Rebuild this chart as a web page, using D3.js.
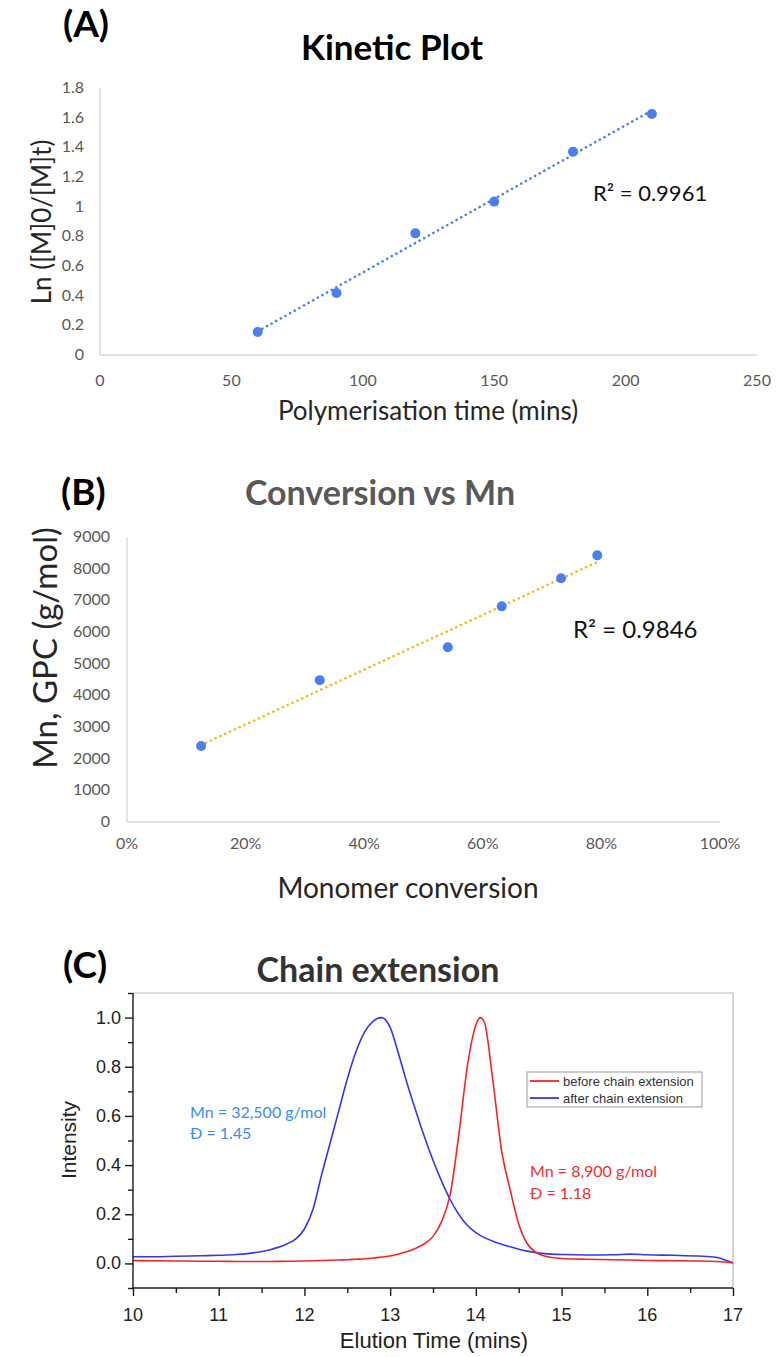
<!DOCTYPE html>
<html><head><meta charset="utf-8">
<script src="https://cdn.jsdelivr.net/npm/d3@7"></script>
<style>body{margin:0;background:#fff}svg{display:block}</style>
</head><body>
<svg id="c" width="780" height="1357"></svg>
<script>
// ---------- Data ----------
// Panel A: kinetic plot
const timeMins = [60, 90, 120, 150, 180, 210];
const lnM0Mt = [0.155, 0.418, 0.82, 1.034, 1.371, 1.625];
const ticksA_x = [0, 50, 100, 150, 200, 250];
const ticksA_y = [0, 0.2, 0.4, 0.6, 0.8, 1, 1.2, 1.4, 1.6, 1.8];
const r2A = "R² = 0.9961";

// Panel B: conversion vs Mn
const conversion = [0.125, 0.325, 0.541, 0.632, 0.732, 0.793];
const mnGPC = [2400, 4480, 5520, 6810, 7700, 8420];
const ticksB_x = [0, 0.2, 0.4, 0.6, 0.8, 1.0];
const ticksB_y = [0, 1000, 2000, 3000, 4000, 5000, 6000, 7000, 8000, 9000];
const r2B = "R² = 0.9846";

// Panel C: GPC traces (elution time, normalised intensity)
const elutionTime = [10.0,10.2,10.5,10.8,11.0,11.2,11.4,11.6,11.8,11.9,12.0,12.1,12.2,12.3,12.4,12.5,12.6,12.7,12.8,12.9,13.0,13.1,13.2,13.3,13.4,13.5,13.6,13.7,13.8,13.9,14.0,14.05,14.1,14.2,14.3,14.4,14.5,14.6,14.7,14.8,15.0,15.3,15.6,15.8,16.0,16.3,16.6,16.8,16.9,17.0];
const afterExt  = [0.027,0.027,0.029,0.031,0.033,0.036,0.043,0.056,0.08,0.1,0.14,0.22,0.36,0.49,0.62,0.75,0.86,0.94,0.985,1.0,0.96,0.85,0.73,0.62,0.515,0.42,0.335,0.26,0.2,0.155,0.125,0.114,0.105,0.09,0.078,0.068,0.058,0.05,0.044,0.04,0.036,0.034,0.035,0.038,0.035,0.033,0.03,0.025,0.015,0.003];
const beforeExt = [0.012,0.011,0.01,0.009,0.009,0.008,0.008,0.008,0.009,0.009,0.01,0.011,0.012,0.013,0.014,0.015,0.017,0.019,0.022,0.026,0.03,0.038,0.048,0.062,0.08,0.11,0.17,0.28,0.52,0.8,0.97,1.0,0.98,0.74,0.46,0.3,0.16,0.08,0.045,0.03,0.02,0.017,0.015,0.014,0.012,0.011,0.01,0.008,0.006,0.002];
const ticksC_x = [10, 11, 12, 13, 14, 15, 16, 17];
const ticksC_y = [0.0, 0.2, 0.4, 0.6, 0.8, 1.0];
const legendLabels = ["before chain extension", "after chain extension"];
const annotAfter = ["Mn = 32,500 g/mol", "Đ = 1.45"];
const annotBefore = ["Mn = 8,900 g/mol", "Đ = 1.18"];

// ---------- Drawing ----------
const svg = d3.select("#c");
const LATO = "Lato, 'Open Sans', sans-serif";
const ARIAL = "'Liberation Sans', Arial, sans-serif";

function linfit(xs, ys){
  const n = xs.length, mx = d3.mean(xs), my = d3.mean(ys);
  let sxy = 0, sxx = 0;
  for (let i=0;i<n;i++){ sxy += (xs[i]-mx)*(ys[i]-my); sxx += (xs[i]-mx)**2; }
  const b = sxy/sxx; return x => my + b*(x-mx);
}

function text(x, y, s, o){
  const t = svg.append("text").attr("x", x).attr("y", y).text(s)
    .attr("font-family", o.ff || LATO).attr("font-size", o.fs)
    .attr("fill", o.fill || "#000").attr("text-anchor", o.anchor || "start");
  if (o.fw) t.attr("font-weight", o.fw);
  if (o.rot) t.attr("transform", `rotate(-90,${x},${y})`);
  return t;
}

// ===== Panel A =====
{
  const x = d3.scaleLinear().domain([0,250]).range([100,757]);
  const y = d3.scaleLinear().domain([0,1.8]).range([355,88]);
  text(63, 37, "(A)", {fs: 37, fw: 700});
  text(392, 60, "Kinetic Plot", {fs: 35, fw: 700, anchor: "middle"});
  svg.append("line").attr("x1", x(0)).attr("x2", x(0)).attr("y1", y(1.8)).attr("y2", y(0)).attr("stroke", "#d9d9d9").attr("stroke-width", 1.3);
  svg.append("line").attr("x1", x(0)).attr("x2", x(250)).attr("y1", y(0)).attr("y2", y(0)).attr("stroke", "#d9d9d9").attr("stroke-width", 1.3);
  ticksA_y.forEach(v => text(84, y(v)+5, String(v), {fs: 16, fill: "#595959", anchor: "end"}));
  ticksA_x.forEach(v => text(x(v), 386, String(v), {fs: 16, fill: "#595959", anchor: "middle"}));
  text(51, 222, "Ln ([M]0/[M]t)", {fs: 26, fill: "#262626", anchor: "middle", rot: true});
  text(428, 420, "Polymerisation time (mins)", {fs: 26, fill: "#262626", anchor: "middle"});
  const f = linfit(timeMins, lnM0Mt);
  const x0 = d3.min(timeMins), x1 = d3.max(timeMins);
  svg.append("line").attr("x1", x(x0)).attr("y1", y(f(x0))).attr("x2", x(x1)).attr("y2", y(f(x1)))
    .attr("stroke", "#4a7ff0").attr("stroke-width", 2.6).attr("stroke-linecap", "round").attr("stroke-dasharray", "0.1 5.2");
  svg.selectAll(".pa").data(timeMins).join("circle").attr("cx", d => x(d)).attr("cy", (d,i) => y(lnM0Mt[i])).attr("r", 5).attr("fill", "#4a7ff0");
  text(593, 201, r2A, {fs: 22, fill: "#111"});
}

// ===== Panel B =====
{
  const x = d3.scaleLinear().domain([0,1]).range([127,720]);
  const y = d3.scaleLinear().domain([0,9000]).range([822,537]);
  text(61, 505, "(B)", {fs: 37, fw: 700});
  text(380, 505, "Conversion vs Mn", {fs: 34, fw: 700, anchor: "middle", fill: "#595959"});
  svg.append("line").attr("x1", x(0)).attr("x2", x(0)).attr("y1", y(9000)).attr("y2", y(0)).attr("stroke", "#d9d9d9").attr("stroke-width", 1.3);
  svg.append("line").attr("x1", x(0)).attr("x2", x(1)).attr("y1", y(0)).attr("y2", y(0)).attr("stroke", "#d9d9d9").attr("stroke-width", 1.3);
  ticksB_y.forEach(v => text(110, y(v)+5, String(v), {fs: 16, fill: "#595959", anchor: "end"}));
  ticksB_x.forEach(v => text(x(v), 849, d3.format(".0%")(v), {fs: 16, fill: "#595959", anchor: "middle"}));
  text(57, 648, "Mn, GPC (g/mol)", {fs: 33, fill: "#262626", anchor: "middle", rot: true});
  text(408, 898, "Monomer conversion", {fs: 28, fill: "#262626", anchor: "middle"});
  const f = linfit(conversion, mnGPC);
  const x0 = d3.min(conversion), x1 = d3.max(conversion);
  svg.append("line").attr("x1", x(x0)).attr("y1", y(f(x0))).attr("x2", x(x1)).attr("y2", y(f(x1)))
    .attr("stroke", "#f5b814").attr("stroke-width", 2.6).attr("stroke-linecap", "round").attr("stroke-dasharray", "0.1 5.2");
  svg.selectAll(".pb").data(conversion).join("circle").attr("cx", d => x(d)).attr("cy", (d,i) => y(mnGPC[i])).attr("r", 5).attr("fill", "#4a7ff0");
  text(573, 638, r2B, {fs: 24, fill: "#111"});
}

// ===== Panel C =====
{
  const x = d3.scaleLinear().domain([10,17]).range([133,733]);
  const y = d3.scaleLinear().domain([-0.1,1.1]).range([1288,993]);
  text(63, 978, "(C)", {fs: 37, fw: 700});
  text(378, 982, "Chain extension", {fs: 34, fw: 700, anchor: "middle", fill: "#333"});
  // frame top/right
  svg.append("path").attr("d", `M${x(10)},${y(1.1)}H${x(17)}V${y(-0.1)}`).attr("fill", "none").attr("stroke", "#b8b8b8").attr("stroke-width", 1.2);
  // curves
  const line = (vals) => d3.line().x((d,i) => x(elutionTime[i])).y(d => y(d)).curve(d3.curveMonotoneX)(vals);
  svg.append("path").attr("d", line(afterExt)).attr("fill", "none").attr("stroke", "#3636f0").attr("stroke-width", 1.6);
  svg.append("path").attr("d", line(beforeExt)).attr("fill", "none").attr("stroke", "#f52424").attr("stroke-width", 1.6);
  // axes
  const ax = svg.append("g").attr("transform", `translate(0,${y(-0.1)})`)
    .call(d3.axisBottom(x).tickValues(d3.range(10, 17.01, 0.5)).tickSize(7).tickFormat(""));
  ax.selectAll(".tick line").attr("y2", (d) => Number.isInteger(d) ? 8 : 5);
  const ay = svg.append("g").attr("transform", `translate(${x(10)},0)`)
    .call(d3.axisLeft(y).tickValues(d3.range(-0.1, 1.101, 0.1).map(v => +v.toFixed(1))).tickSize(7).tickFormat(""));
  ay.selectAll(".tick line").attr("x2", d => (Math.round(d*10) % 2 === 0) ? -8 : -5);
  [ax, ay].forEach(g => { g.selectAll("path,line").attr("stroke", "#1a1a1a").attr("stroke-width", 1.4); g.select(".domain").attr("d", g === ax ? `M${x(10)},0H${x(17)}` : `M0,${y(-0.1)}V${y(1.1)}`); });
  ticksC_x.forEach(v => text(x(v), 1321, String(v), {ff: ARIAL, fs: 18, fill: "#222", anchor: "middle"}));
  ticksC_y.forEach(v => text(x(10)-12, y(v)+6, v.toFixed(1), {ff: ARIAL, fs: 18, fill: "#222", anchor: "end"}));
  text(76, 1140, "Intensity", {ff: ARIAL, fs: 21, fill: "#222", anchor: "middle", rot: true});
  text(434, 1348, "Elution Time (mins)", {ff: ARIAL, fs: 22, fill: "#222", anchor: "middle"});
  // legend
  svg.append("rect").attr("x", 527).attr("y", 1072).attr("width", 175).attr("height", 35).attr("fill", "#fff").attr("stroke", "#9a9a9a").attr("stroke-width", 1);
  const lc = ["#f52424", "#3636f0"];
  legendLabels.forEach((s, i) => {
    const ly = 1081 + i*17;
    svg.append("line").attr("x1", 530).attr("x2", 559).attr("y1", ly).attr("y2", ly).attr("stroke", lc[i]).attr("stroke-width", 1.8);
    text(563, ly+4.5, s, {ff: ARIAL, fs: 13, fill: "#333"});
  });
  // annotations
  annotAfter.forEach((s, i) => text(190, 1118 + i*21, s, {fs: 16, fill: "#3a8cf0"}));
  annotBefore.forEach((s, i) => text(530, 1177 + i*22, s, {fs: 16, fill: "#f03030"}));
}
</script>
</body></html>
